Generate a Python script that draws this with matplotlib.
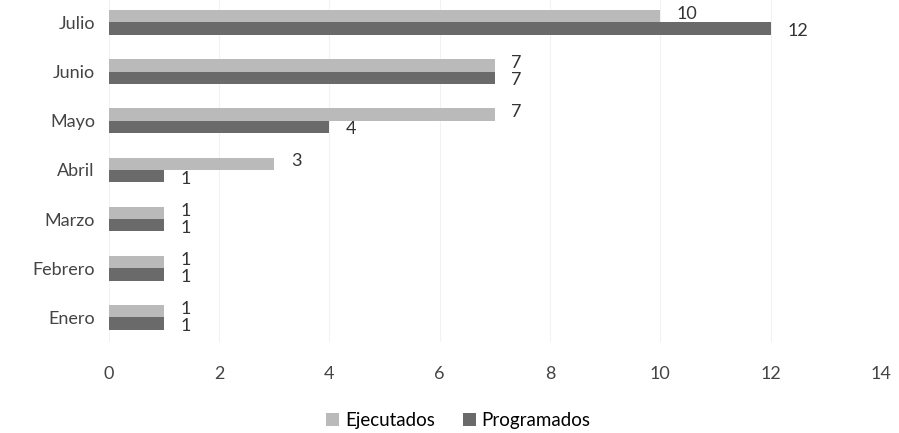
import matplotlib
matplotlib.use('Agg')
import matplotlib.pyplot as plt
import numpy as np

plt.rcParams['font.family'] = ['Lato', 'DejaVu Sans']

meses = ['Enero', 'Febrero', 'Marzo', 'Abril', 'Mayo', 'Junio', 'Julio']
ejecutados = [1, 1, 1, 3, 7, 7, 10]
programados = [1, 1, 1, 1, 4, 7, 12]

fig = plt.figure(figsize=(8.99, 4.33), dpi=100)
ax = fig.add_axes([0.121, 0.21, 0.859, 0.795])

y = np.arange(len(meses))
h = 0.25
b1 = ax.barh(y + h / 2, ejecutados, height=h, color='#bababa', label='Ejecutados')
b2 = ax.barh(y - h / 2, programados, height=h, color='#6a6a6a', label='Programados')

for bars, dy in ((b1, 0.05), (b2, -0.05)):
    for rect in bars:
        w = rect.get_width()
        ax.text(w + 0.3, rect.get_y() + rect.get_height() / 2 + dy, str(int(w)),
                va='center', ha='left', fontsize=13, color='#333333')

ax.set_xlim(0, 14)
ax.set_ylim(-0.5, 6.5)
ax.set_xticks(range(0, 15, 2))
ax.set_yticks(y)
ax.set_yticklabels(meses)
ax.tick_params(axis='both', length=0, labelsize=13, colors='#444444')
ax.tick_params(axis='x', pad=17)
ax.tick_params(axis='y', pad=10)
ax.xaxis.grid(True, color='#f2f2f2', linewidth=0.8)
ax.set_axisbelow(True)
for s in ax.spines.values():
    s.set_visible(False)

fig.legend(handles=[b1, b2], loc='lower center', bbox_to_anchor=(0.51, -0.03), ncol=2,
           frameon=False, fontsize=13.5, handlelength=0.7, handleheight=0.7,
           handletextpad=0.3, columnspacing=1.5)

fig.savefig('out.png', dpi=100)
